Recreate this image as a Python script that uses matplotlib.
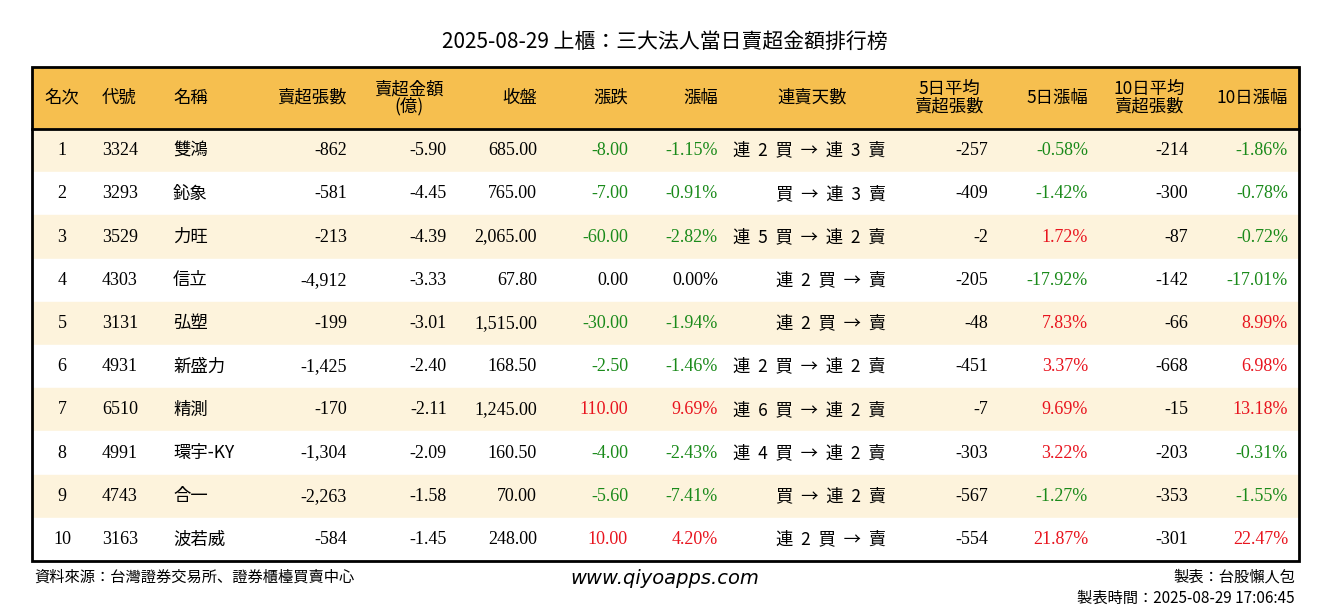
import matplotlib.pyplot as plt
from matplotlib import font_manager
from matplotlib.patches import Rectangle

names_avail = {f.name for f in font_manager.fontManager.ttflist}
CJK = next((n for n in ['Noto Sans CJK TC', 'Noto Sans CJK JP', 'Noto Sans CJK SC']
            if n in names_avail), 'DejaVu Sans')
plt.rcParams['font.family'] = 'Liberation Serif'

title = '2025-08-29 上櫃：三大法人當日賣超金額排行榜'
headers = ['名次', '代號', '名稱', '賣超張數', '賣超金額\n(億)', '收盤', '漲跌', '漲幅',
           '連賣天數', '5日平均\n賣超張數', '5日漲幅', '10日平均\n賣超張數', '10日漲幅']

ranks = [1, 2, 3, 4, 5, 6, 7, 8, 9, 10]
codes = ['3324', '3293', '3529', '4303', '3131', '4931', '6510', '4991', '4743', '3163']
names = ['雙鴻', '鈊象', '力旺', '信立', '弘塑', '新盛力', '精測', '環宇-KY', '合一', '波若威']
net_sell = [-862, -581, -213, -4912, -199, -1425, -170, -1304, -2263, -584]
amount = [-5.90, -4.45, -4.39, -3.33, -3.01, -2.40, -2.11, -2.09, -1.58, -1.45]
close = [685.00, 765.00, 2065.00, 67.80, 1515.00, 168.50, 1245.00, 160.50, 70.00, 248.00]
change = [-8.00, -7.00, -60.00, 0.00, -30.00, -2.50, 110.00, -4.00, -5.60, 10.00]
pct = [-1.15, -0.91, -2.82, 0.00, -1.94, -1.46, 9.69, -2.43, -7.41, 4.20]
streak = ['連 2 買 → 連 3 賣', '買 → 連 3 賣', '連 5 買 → 連 2 賣', '連 2 買 → 賣',
          '連 2 買 → 賣', '連 2 買 → 連 2 賣', '連 6 買 → 連 2 賣', '連 4 買 → 連 2 賣',
          '買 → 連 2 賣', '連 2 買 → 賣']
avg5 = [-257, -409, -2, -205, -48, -451, -7, -303, -567, -554]
pct5 = [-0.58, -1.42, 1.72, -17.92, 7.83, 3.37, 9.69, 3.22, -1.27, 21.87]
avg10 = [-214, -300, -87, -142, -66, -668, -15, -203, -353, -301]
pct10 = [-1.86, -0.78, -0.72, -17.01, 8.99, 6.98, 13.18, -0.31, -1.55, 22.47]

GREEN, RED = '#1a8a1a', '#e8141e'

def col(v):
    return GREEN if v < 0 else (RED if v > 0 else 'black')

def fam(s):
    return CJK if any(ord(ch) > 0x2000 for ch in s) else 'Liberation Serif'

cols = [(62, 'center'), (102, 'left'), (173, 'left'), (347, 'right'), (447, 'right'),
        (537, 'right'), (628, 'right'), (718, 'right'), (886, 'right'), (988, 'right'),
        (1088, 'right'), (1188, 'right'), (1288, 'right')]
hdr_pos = list(cols)
hdr_pos[4] = (409, 'center')
hdr_pos[8] = (812, 'center')
hdr_pos[9] = (949, 'center')
hdr_pos[11] = (1149, 'center')

fig = plt.figure(figsize=(13.3, 6.12), dpi=100)
ax = fig.add_axes([0, 0, 1, 1])
ax.set_xlim(0, 1330)
ax.set_ylim(612, 0)
ax.axis('off')

left, right, top, hdr_h, row_h = 32, 1299, 67, 62, 43.2
ax.add_patch(Rectangle((left, top), right - left, hdr_h, color='#f6bf4f', zorder=0))
for i in range(len(ranks)):
    y0 = top + hdr_h + i * row_h
    fc = '#fdf3dc' if i % 2 == 0 else 'white'
    ax.add_patch(Rectangle((left, y0), right - left, row_h, color=fc, zorder=0))
bottom = top + hdr_h + len(ranks) * row_h
ax.add_patch(Rectangle((left, top), right - left, bottom - top, fill=False, lw=2, ec='black', zorder=3))
ax.plot([left, right], [top + hdr_h, top + hdr_h], color='black', lw=2, zorder=3)

ax.text(665, 42, title, ha='center', va='center', fontsize=15, family=CJK)
for h, (x, a) in zip(headers, hdr_pos):
    ax.text(x, top + hdr_h / 2, h, ha=a, va='center', fontsize=12.5, linespacing=0.95,
            family=CJK, multialignment='center')

fs = 13
for i in range(len(ranks)):
    y = top + hdr_h + (i + 0.5) * row_h
    cells = [
        (str(ranks[i]), 'black'), (codes[i], 'black'), (names[i], 'black'),
        (f'{net_sell[i]:,}', 'black'), (f'{amount[i]:.2f}', 'black'),
        (f'{close[i]:,.2f}', 'black'), (f'{change[i]:.2f}', col(change[i])),
        (f'{pct[i]:.2f}%', col(pct[i])), (streak[i].replace(' ', '  '), 'black'),
        (f'{avg5[i]:,}', 'black'), (f'{pct5[i]:.2f}%', col(pct5[i])),
        (f'{avg10[i]:,}', 'black'), (f'{pct10[i]:.2f}%', col(pct10[i])),
    ]
    for (s, c), (x, a) in zip(cells, cols):
        f = fam(s)
        ax.text(x, y, s, ha=a, va='center', fontsize=fs if f != CJK else 12.5,
                color=c, family=f)

ax.text(34, 577, '資料來源：台灣證券交易所、證券櫃檯買賣中心', ha='left', va='center',
        fontsize=11, family=CJK)
ax.text(665, 579, 'www.qiyoapps.com', ha='center', va='center', fontsize=14,
        style='italic', family='DejaVu Sans')
ax.text(1295, 577, '製表：台股懶人包', ha='right', va='center', fontsize=11, family=CJK)
ax.text(1295, 598, '製表時間：2025-08-29 17:06:45', ha='right', va='center',
        fontsize=11, family=CJK)

fig.savefig('out.png', dpi=100)
